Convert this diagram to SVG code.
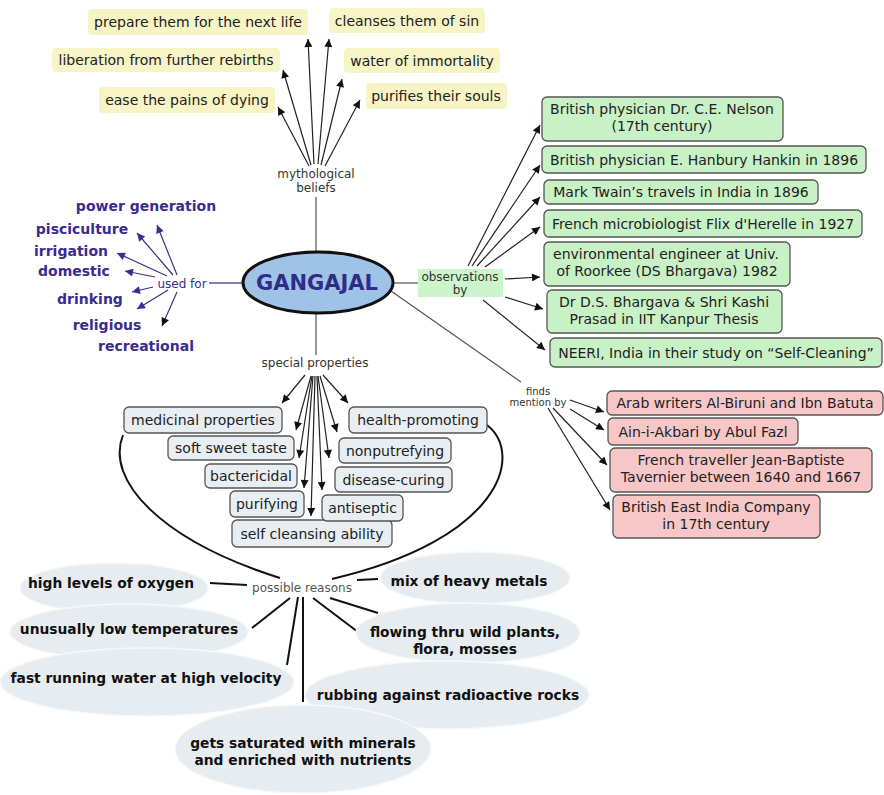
<svg xmlns="http://www.w3.org/2000/svg" width="884" height="795" viewBox="0 0 884 795">
<defs>
<marker id="ah" viewBox="0 0 10 10" refX="10" refY="5" markerWidth="10" markerHeight="8" markerUnits="userSpaceOnUse" orient="auto"><path d="M0,0 L10,5 L0,10 z" fill="#111"/></marker>
<marker id="ahp" viewBox="0 0 10 10" refX="10" refY="5" markerWidth="10" markerHeight="8" markerUnits="userSpaceOnUse" orient="auto"><path d="M0,0 L10,5 L0,10 z" fill="#3a2f8f"/></marker>
</defs>
<style>
text{font-family:"DejaVu Sans",Verdana,sans-serif;}
.t{font-size:14px;fill:#222;text-anchor:middle;}
.lbl{font-size:12px;fill:#333;text-anchor:middle;}
.use{font-size:14px;font-weight:bold;fill:#3a2b8f;text-anchor:middle;}
.rs{font-size:13.8px;font-weight:bold;fill:#111;text-anchor:middle;}
.yel{fill:#f7f4c6;}
.grn{fill:#c9f1c6;stroke:#555;stroke-width:1.3;}
.pnk{fill:#f7c6c6;stroke:#555;stroke-width:1.3;}
.prp{fill:#e8eef2;stroke:#555;stroke-width:1.3;}
.ell{fill:#e7ecf0;stroke:#f6f8fa;stroke-width:1.5;}
.a{stroke:#222;stroke-width:1.2;fill:none;marker-end:url(#ah);}
.ap{stroke:#3a2f8f;stroke-width:1.2;fill:none;marker-end:url(#ahp);}
.apb{stroke:#3a2f8f;stroke-width:1.2;fill:none;marker-end:url(#ah);}
.g{stroke:#777;stroke-width:1.5;fill:none;}
.k{stroke:#111;stroke-width:2;fill:none;}
</style>
<rect width="884" height="795" fill="#fff"/>
<g id="connectors">
  <line class="g" x1="316" y1="197" x2="316" y2="251"/>
  <line class="a" x1="309" y1="166" x2="278" y2="107"/>
  <line class="a" x1="311" y1="165" x2="283" y2="70"/>
  <line class="a" x1="314" y1="164" x2="308" y2="39"/>
  <line class="a" x1="318" y1="164" x2="329" y2="39"/>
  <line class="a" x1="321" y1="165" x2="342" y2="79"/>
  <line class="a" x1="325" y1="166" x2="360" y2="100"/>
  <line class="g" x1="209" y1="283" x2="243" y2="283" style="stroke:#5a5296"/>
  <line class="ap" x1="177" y1="275" x2="157" y2="225"/>
  <line class="ap" x1="173" y1="275" x2="137" y2="233"/>
  <line class="ap" x1="167" y1="276" x2="117" y2="253"/>
  <line class="ap" x1="155" y1="277" x2="125" y2="271"/>
  <line class="ap" x1="153" y1="287" x2="132" y2="292"/>
  <line class="ap" x1="168" y1="290" x2="137" y2="309"/>
  <line class="apb" x1="177" y1="292" x2="162" y2="326"/>
  <line class="g" x1="393" y1="283" x2="418" y2="283"/>
  <line class="a" x1="468" y1="266" x2="540" y2="125"/>
  <line class="a" x1="472" y1="266" x2="540" y2="165"/>
  <line class="a" x1="477" y1="266" x2="540" y2="197"/>
  <line class="a" x1="485" y1="267" x2="540" y2="227"/>
  <line class="a" x1="505" y1="279" x2="540" y2="277"/>
  <line class="a" x1="505" y1="297" x2="543" y2="309"/>
  <line class="a" x1="483" y1="300" x2="545" y2="350"/>
  <line class="g" x1="391" y1="291" x2="521" y2="382" style="stroke:#555;stroke-width:1.2"/>
  <line class="a" x1="570" y1="400" x2="604" y2="412"/>
  <line class="a" x1="570" y1="409" x2="604" y2="430"/>
  <line class="a" x1="553" y1="408" x2="607" y2="465"/>
  <line class="a" x1="548" y1="408" x2="610" y2="510"/>
  <line class="g" x1="316" y1="313" x2="316" y2="355"/>
  <line class="a" x1="305" y1="375" x2="282" y2="403"/>
  <line class="a" x1="323" y1="375" x2="348" y2="403"/>
  <line class="a" x1="311" y1="376" x2="296" y2="430"/>
  <line class="a" x1="312" y1="376" x2="299" y2="458"/>
  <line class="a" x1="313" y1="376" x2="304" y2="488"/>
  <line class="a" x1="315" y1="376" x2="311" y2="516"/>
  <line class="a" x1="317" y1="376" x2="322" y2="490"/>
  <line class="a" x1="318" y1="376" x2="329" y2="458"/>
  <line class="a" x1="320" y1="376" x2="337" y2="432"/>
  <path class="k" d="M123,435 C105,480 160,540 280,578"/>
  <path class="k" d="M487,425 C525,455 500,540 332,579"/>
  <line class="k" x1="210" y1="583" x2="247" y2="585"/>
  <line class="k" x1="357" y1="580" x2="378" y2="579"/>
  <line class="k" x1="290" y1="598" x2="252" y2="628"/>
  <line class="k" x1="298" y1="597" x2="287" y2="665"/>
  <line class="k" x1="303" y1="597" x2="303" y2="702"/>
  <line class="k" x1="330" y1="598" x2="378" y2="613"/>
  <line class="k" x1="313" y1="598" x2="358" y2="632"/>
</g>
<g id="prepare"><rect class="yel" x="88" y="9" width="220" height="26" rx="4"/><text class="t" x="198" y="27">prepare them for the next life</text></g>
<g id="cleanses"><rect class="yel" x="329" y="8" width="156" height="25" rx="4"/><text class="t" x="407" y="25.5">cleanses them of sin</text></g>
<g id="liberation"><rect class="yel" x="52" y="48" width="228" height="24" rx="4"/><text class="t" x="166" y="65">liberation from further rebirths</text></g>
<g id="water"><rect class="yel" x="344" y="48" width="156" height="25" rx="4"/><text class="t" x="422" y="65.5">water of immortality</text></g>
<g id="ease"><rect class="yel" x="99" y="87" width="176" height="26" rx="4"/><text class="t" x="187" y="105">ease the pains of dying</text></g>
<g id="purifies"><rect class="yel" x="366" y="83" width="141" height="26" rx="4"/><text class="t" x="436" y="101">purifies their souls</text></g>
<g id="mythological"><text class="lbl" x="316" y="178">mythological</text><text class="lbl" x="316" y="192">beliefs</text></g>
<g id="gangajal"><ellipse cx="318" cy="282.5" rx="75" ry="30.5" fill="#a0c2e6" stroke="#111" stroke-width="3"/><text x="317" y="290" style="font-size:21px;font-weight:bold;fill:#2e2d88;text-anchor:middle">GANGAJAL</text></g>
<g id="usedfor"><text x="182" y="288" style="font-size:12px;fill:#3a2b8f;text-anchor:middle">used for</text></g>
<g id="power"><text class="use" x="146" y="211">power generation</text></g>
<g id="pisciculture"><text class="use" x="82" y="234">pisciculture</text></g>
<g id="irrigation"><text class="use" x="71" y="256">irrigation</text></g>
<g id="domestic"><text class="use" x="74" y="276">domestic</text></g>
<g id="drinking"><text class="use" x="90" y="304">drinking</text></g>
<g id="religious"><text class="use" x="107" y="330">religious</text></g>
<g id="recreational"><text class="use" x="146" y="351">recreational</text></g>
<g id="observations"><rect x="418" y="269" width="85" height="28" fill="#ccf5cc"/><text class="lbl" x="460" y="281">observations</text><text class="lbl" x="460" y="294">by</text></g>
<g id="nelson"><rect class="grn" x="542" y="97" width="241" height="44" rx="5"/><text class="t" x="662" y="114">British physician Dr. C.E. Nelson</text><text class="t" x="662" y="131">(17th century)</text></g>
<g id="hankin"><rect class="grn" x="542" y="146" width="324" height="27" rx="5"/><text class="t" x="704" y="164.5">British physician E. Hanbury Hankin in 1896</text></g>
<g id="twain"><rect class="grn" x="544" y="180" width="274" height="24" rx="5"/><text class="t" x="681" y="197">Mark Twain’s travels in India in 1896</text></g>
<g id="herelle"><rect class="grn" x="544" y="210" width="318" height="27" rx="5"/><text class="t" x="703" y="228.5">French microbiologist Flix d'Herelle in 1927</text></g>
<g id="roorkee"><rect class="grn" x="544" y="242" width="246" height="44" rx="5"/><text class="t" x="666" y="259">environmental engineer at Univ.</text><text class="t" x="667" y="276">of Roorkee (DS Bhargava) 1982</text></g>
<g id="kanpur"><rect class="grn" x="547" y="290" width="235" height="43" rx="5"/><text class="t" x="664" y="307">Dr D.S. Bhargava &amp; Shri Kashi</text><text class="t" x="664" y="324">Prasad in IIT Kanpur Thesis</text></g>
<g id="neeri"><rect class="grn" x="550" y="338" width="332" height="29" rx="5"/><text class="t" x="716" y="357.5">NEERI, India in their study on “Self-Cleaning”</text></g>
<g id="finds"><text class="lbl" x="538" y="395" style="font-size:10px">finds</text><text class="lbl" x="538" y="406" style="font-size:10px">mention by</text></g>
<g id="arab"><rect class="pnk" x="607" y="391" width="276" height="24" rx="5"/><text class="t" x="745" y="408">Arab writers Al-Biruni and Ibn Batuta</text></g>
<g id="akbari"><rect class="pnk" x="608" y="418" width="190" height="27" rx="5"/><text class="t" x="703" y="436.5">Ain-i-Akbari by Abul Fazl</text></g>
<g id="tavernier"><rect class="pnk" x="610" y="448" width="262" height="44" rx="5"/><text class="t" x="741" y="465">French traveller Jean-Baptiste</text><text class="t" x="741" y="482">Tavernier between 1640 and 1667</text></g>
<g id="eastindia"><rect class="pnk" x="613" y="495" width="207" height="43" rx="5"/><text class="t" x="716" y="512">British East India Company</text><text class="t" x="716" y="529">in 17th century</text></g>
<g id="special"><text class="lbl" x="315" y="367">special properties</text></g>
<g id="medicinal"><rect class="prp" x="124" y="407" width="158" height="26" rx="5"/><text class="t" x="203" y="425">medicinal properties</text></g>
<g id="softsweet"><rect class="prp" x="168" y="436" width="126" height="24" rx="5"/><text class="t" x="231" y="453">soft sweet taste</text></g>
<g id="bactericidal"><rect class="prp" x="205" y="464" width="92" height="24" rx="5"/><text class="t" x="251" y="481">bactericidal</text></g>
<g id="purifying"><rect class="prp" x="230" y="491" width="74" height="26" rx="5"/><text class="t" x="267" y="508.5">purifying</text></g>
<g id="selfcleansing"><rect class="prp" x="232" y="520" width="160" height="27" rx="5"/><text class="t" x="312" y="538.5">self cleansing ability</text></g>
<g id="health"><rect class="prp" x="349" y="407" width="138" height="26" rx="5"/><text class="t" x="418" y="425">health-promoting</text></g>
<g id="nonputrefying"><rect class="prp" x="339" y="438" width="112" height="25" rx="5"/><text class="t" x="395" y="455.5">nonputrefying</text></g>
<g id="diseasecuring"><rect class="prp" x="335" y="467" width="117" height="25" rx="5"/><text class="t" x="393.5" y="484.5">disease-curing</text></g>
<g id="antiseptic"><rect class="prp" x="322" y="495" width="81" height="26" rx="5"/><text class="t" x="362.5" y="513">antiseptic</text></g>
<g id="possible"><text class="lbl" x="302" y="592" style="fill:#555">possible reasons</text></g>
<g id="oxygen"><ellipse class="ell" cx="114" cy="588" rx="94" ry="25"/><text class="rs" x="111" y="588">high levels of oxygen</text></g>
<g id="lowtemp"><ellipse class="ell" cx="129" cy="632" rx="119" ry="28"/><text class="rs" x="129" y="634">unusually low temperatures</text></g>
<g id="fastwater"><ellipse class="ell" cx="147" cy="682" rx="147" ry="34"/><text class="rs" x="146" y="683">fast running water at high velocity</text></g>
<g id="metals"><ellipse class="ell" cx="475" cy="578" rx="95" ry="26"/><text class="rs" x="469" y="586">mix of heavy metals</text></g>
<g id="plants"><ellipse class="ell" cx="468" cy="633" rx="112" ry="30"/><text class="rs" x="465" y="637">flowing thru wild plants,</text><text class="rs" x="465" y="654">flora, mosses</text></g>
<g id="radioactive"><ellipse class="ell" cx="447" cy="695" rx="142" ry="34"/><text class="rs" x="448" y="700">rubbing against radioactive rocks</text></g>
<g id="minerals"><ellipse class="ell" cx="303" cy="749" rx="128" ry="44"/><text class="rs" x="303" y="748">gets saturated with minerals</text><text class="rs" x="303" y="765">and enriched with nutrients</text></g>
</svg>
